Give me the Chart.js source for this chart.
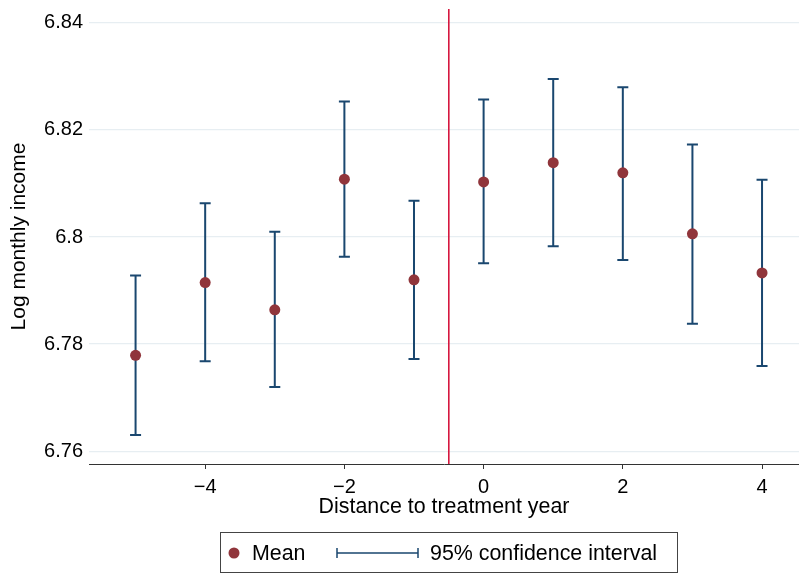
<!DOCTYPE html>
<html>
<head>
<meta charset="utf-8">
<script src="https://cdn.jsdelivr.net/npm/chart.js@4/dist/chart.umd.min.js"></script>
<style>
  html, body { margin: 0; padding: 0; background: #ffffff; }
  #wrap { position: relative; width: 799px; height: 573px; }
</style>
</head>
<body>
<div id="wrap"><canvas id="c" width="799" height="573"></canvas></div>
<script>
// Event-time coefficients: mean log monthly income with 95% confidence bounds
const years = [-5, -4, -3, -2, -1, 0, 1, 2, 3, 4];
const means = [6.7779, 6.7915, 6.7864, 6.8108, 6.7920, 6.8103, 6.8139, 6.8120, 6.8006, 6.7933];
const ciLow = [6.7630, 6.7768, 6.7720, 6.7963, 6.7772, 6.7951, 6.7983, 6.7957, 6.7838, 6.7759];
const ciHigh = [6.7928, 6.8063, 6.8010, 6.8253, 6.8068, 6.8257, 6.8295, 6.8280, 6.8173, 6.8107];
const treatmentLine = -0.5;

const xTicks = [-4, -2, 0, 2, 4];
const yTicks = [6.76, 6.78, 6.80, 6.82, 6.84];
const yTickLabels = ['6.76', '6.78', '6.8', '6.82', '6.84'];

const NAVY = '#1a476f';
const MAROON = '#90353b';
const RED = '#d6173f';
const FONT = "'Liberation Sans', Arial, Helvetica, sans-serif";

// Confidence-interval whiskers and the treatment marker line
const ciPlugin = {
  id: 'ciBars',
  beforeDatasetsDraw(chart) {
    const { ctx, scales: { x, y }, chartArea } = chart;
    ctx.save();
    const lx = x.getPixelForValue(treatmentLine);
    ctx.strokeStyle = RED;
    ctx.lineWidth = 1.6;
    ctx.beginPath();
    ctx.moveTo(lx, chartArea.top);
    ctx.lineTo(lx, chartArea.bottom);
    ctx.stroke();

    ctx.strokeStyle = NAVY;
    ctx.lineWidth = 2;
    const cap = 5.5;
    years.forEach((yr, i) => {
      const px = x.getPixelForValue(yr);
      const top = y.getPixelForValue(ciHigh[i]);
      const bot = y.getPixelForValue(ciLow[i]);
      ctx.beginPath();
      ctx.moveTo(px, top);
      ctx.lineTo(px, bot);
      ctx.moveTo(px - cap, top);
      ctx.lineTo(px + cap, top);
      ctx.moveTo(px - cap, bot);
      ctx.lineTo(px + cap, bot);
      ctx.stroke();
    });
    ctx.restore();
  }
};

// Boxed legend beneath the axis title
const legendPlugin = {
  id: 'boxLegend',
  afterDraw(chart) {
    const ctx = chart.ctx;
    ctx.save();
    ctx.strokeStyle = '#444444';
    ctx.lineWidth = 1;
    ctx.strokeRect(220.5, 532.5, 457, 40);
    const cy = 553;
    ctx.fillStyle = MAROON;
    ctx.beginPath();
    ctx.arc(234, cy, 5.5, 0, Math.PI * 2);
    ctx.fill();
    ctx.fillStyle = '#000000';
    ctx.font = '21.4px ' + FONT;
    ctx.textBaseline = 'middle';
    ctx.textAlign = 'left';
    ctx.fillText('Mean', 252, cy + 1);
    ctx.strokeStyle = NAVY;
    ctx.lineWidth = 1.5;
    ctx.beginPath();
    ctx.moveTo(337, cy);
    ctx.lineTo(418, cy);
    ctx.moveTo(337, cy - 5);
    ctx.lineTo(337, cy + 5);
    ctx.moveTo(418, cy - 5);
    ctx.lineTo(418, cy + 5);
    ctx.stroke();
    ctx.fillText('95% confidence interval', 430, cy + 1);
    ctx.restore();
  }
};

new Chart(document.getElementById('c'), {
  type: 'scatter',
  data: {
    datasets: [{
      label: 'Mean',
      data: years.map((yr, i) => ({ x: yr, y: means[i] })),
      backgroundColor: MAROON,
      borderColor: MAROON,
      pointRadius: 5.5,
      pointHoverRadius: 5.5,
      borderWidth: 0
    }]
  },
  options: {
    responsive: false,
    animation: false,
    devicePixelRatio: 1,
    layout: { autoPadding: false, padding: { top: 9, right: 0, bottom: 53, left: 0 } },
    plugins: { legend: { display: false }, tooltip: { enabled: false } },
    scales: {
      x: {
        type: 'linear',
        min: -5.669,
        max: 4.531,
        afterBuildTicks(scale) { scale.ticks = xTicks.map(v => ({ value: v })); },
        afterFit(scale) {
          scale.height = 56;
          scale.paddingLeft = 0;
          scale.paddingRight = 0;
        },
        ticks: {
          color: '#000000',
          font: { family: FONT, size: 20 },
          padding: 6,
          maxRotation: 0,
          callback: v => (v < 0 ? '\u2212' + Math.abs(v) : String(v))
        },
        grid: { drawOnChartArea: false, drawTicks: true, tickLength: 5, color: '#333333', lineWidth: 1 },
        border: { display: true, color: '#333333', width: 1 },
        title: {
          display: true,
          text: 'Distance to treatment year',
          color: '#000000',
          font: { family: FONT, size: 21.4 },
          padding: { top: 0, bottom: 0 }
        }
      },
      y: {
        min: 6.7576,
        max: 6.8426,
        afterBuildTicks(scale) { scale.ticks = yTicks.map(v => ({ value: v })); },
        afterFit(scale) {
          scale.width = 89;
          scale.paddingTop = 0;
          scale.paddingBottom = 0;
        },
        ticks: {
          color: '#000000',
          font: { family: FONT, size: 20 },
          padding: 6,
          callback: v => yTickLabels[yTicks.findIndex(t => Math.abs(t - v) < 1e-6)]
        },
        grid: { drawTicks: false, color: '#e7eef2', lineWidth: 1.3 },
        border: { display: false },
        title: {
          display: true,
          text: 'Log monthly income',
          color: '#000000',
          font: { family: FONT, size: 21 },
          padding: { top: 7, bottom: 0 }
        }
      }
    }
  },
  plugins: [ciPlugin, legendPlugin]
});
</script>
</body>
</html>
